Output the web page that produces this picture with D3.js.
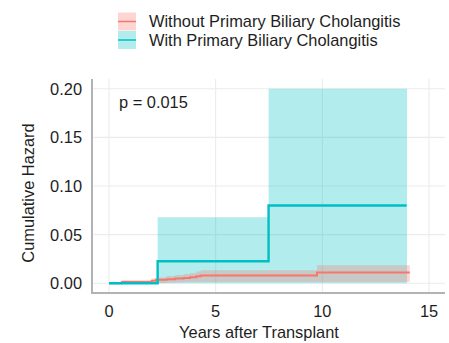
<!DOCTYPE html>
<html><head><meta charset="utf-8">
<script src="https://cdn.jsdelivr.net/npm/d3@7"></script>
<style>body{margin:0;background:#fff}svg{display:block}text{font-family:"Liberation Sans",Arial,sans-serif;fill:#1e1e1e}</style>
</head><body><svg id="c" width="449" height="343"></svg>
<script>
// Data
const groups = ["Without Primary Biliary Cholangitis", "With Primary Biliary Cholangitis"];
const colors = ["#F8766D", "#00BFC4"];
// Without PBC
const timeWithout  = [0, 0.6, 2.0, 2.2, 2.7, 3.1, 3.5, 3.8, 4.1, 4.3, 9.75, 14.1];
const hazWithout   = [0, 0.0012, 0.0025, 0.0035, 0.0042, 0.005, 0.0055, 0.0063, 0.0072, 0.008, 0.011, 0.011];
const lowerWithout = [0, 0, 0, 0.0004, 0.0008, 0.001, 0.0012, 0.0013, 0.0013, 0.0013, 0.0013, 0.0013];
const upperWithout = [0, 0.003, 0.005, 0.006, 0.0075, 0.0085, 0.0095, 0.0105, 0.012, 0.0134, 0.0186, 0.0186];
// With PBC
const timeWith  = [0, 2.28, 7.48, 13.95];
const hazWith   = [0, 0.0227, 0.08, 0.08];
const lowerWith = [0, 0, 0, 0];
const upperWith = [0, 0.068, 0.2, 0.2];
const bandEndWith = 13.97;
const xTicks = [0, 5, 10, 15];
const yTicks = [0, 0.05, 0.10, 0.15, 0.20];
const pLabel = "p = 0.015";

const svg = d3.select("#c");
const L = 93, R = 445, T = 79, B = 293;
const FS = 16.4;
const x = d3.scaleLinear().domain([-0.75, 15.75]).range([L, R]);
const y = d3.scaleLinear().domain([-0.01, 0.21]).range([B, T]);

// grid
const g = svg.append("g");
g.selectAll(".gx").data(xTicks).join("line")
  .attr("x1", d => x(d)).attr("x2", d => x(d)).attr("y1", T).attr("y2", B)
  .attr("stroke", "#ebebeb").attr("stroke-width", 1.1);
g.selectAll(".gy").data(yTicks).join("line")
  .attr("x1", L).attr("x2", R).attr("y1", d => y(d)).attr("y2", d => y(d))
  .attr("stroke", "#ebebeb").attr("stroke-width", 1.1);

function rows(t, h, lo, up, endT) {
  const r = t.map((d, i) => ({t: d, h: h[i], lo: lo[i], up: up[i]}));
  if (endT !== undefined) { const last = r[r.length - 1]; r.push({t: endT, h: last.h, lo: last.lo, up: last.up}); }
  return r;
}
const dWithout = rows(timeWithout, hazWithout, lowerWithout, upperWithout);
const dWith = rows(timeWith, hazWith, lowerWith, upperWith);
const dWithBand = rows(timeWith.slice(0, -1), hazWith.slice(0, -1), lowerWith.slice(0, -1), upperWith.slice(0, -1), bandEndWith);

const area = d3.area().curve(d3.curveStepAfter).x(d => x(d.t)).y0(d => y(d.lo)).y1(d => y(d.up));
const line = d3.line().curve(d3.curveStepAfter).x(d => x(d.t)).y(d => y(d.h));

svg.append("path").datum(dWithBand).attr("d", area).attr("fill", colors[1]).attr("fill-opacity", 0.3);
svg.append("path").datum(dWithout).attr("d", area).attr("fill", colors[0]).attr("fill-opacity", 0.3);
svg.append("path").datum(dWithout).attr("d", line).attr("fill", "none").attr("stroke", colors[0]).attr("stroke-width", 2);
svg.append("path").datum(dWith).attr("d", line).attr("fill", "none").attr("stroke", colors[1]).attr("stroke-width", 2.4);

// axes lines
svg.append("line").attr("x1", L - 1).attr("x2", L - 1).attr("y1", T).attr("y2", B + 1).attr("stroke", "#b3b3b3").attr("stroke-width", 2);
svg.append("line").attr("x1", L - 2).attr("x2", R).attr("y1", B).attr("y2", B).attr("stroke", "#b3b3b3").attr("stroke-width", 2);

// tick labels
svg.selectAll(".yl").data(yTicks).join("text")
  .attr("x", 82).attr("y", d => y(d)).attr("dy", "0.36em").attr("text-anchor", "end")
  .attr("font-size", FS).text(d => d3.format(".2f")(d));
svg.selectAll(".xl").data(xTicks).join("text")
  .attr("x", d => x(d)).attr("y", 317).attr("text-anchor", "middle")
  .attr("font-size", FS).text(d => d);

// titles
svg.append("text").attr("x", 259).attr("y", 338).attr("text-anchor", "middle").attr("font-size", FS).text("Years after Transplant");
svg.append("text").attr("transform", "translate(34,193) rotate(-90)").attr("text-anchor", "middle").attr("font-size", FS).text("Cumulative Hazard");
svg.append("text").attr("x", 119).attr("y", 108).attr("font-size", FS).text(pLabel);

// legend
const lg = svg.append("g");
groups.forEach((name, i) => {
  const cy = 21.5 + i * 18.5;
  lg.append("rect").attr("x", 118).attr("y", cy - 9).attr("width", 18).attr("height", 18).attr("fill", colors[i]).attr("fill-opacity", 0.3);
  lg.append("line").attr("x1", 118).attr("x2", 136).attr("y1", cy).attr("y2", cy).attr("stroke", colors[i]).attr("stroke-width", 1.5);
  lg.append("text").attr("x", 149).attr("y", cy).attr("dy", "0.36em").attr("font-size", FS).text(name);
});
</script></body></html>
